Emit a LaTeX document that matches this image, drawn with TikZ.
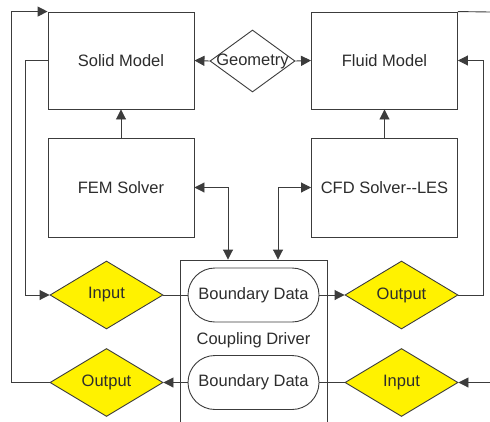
\documentclass[tikz,border=0pt]{standalone}
\usepackage{fontspec}
\setmainfont{Liberation Sans}
\usepackage{xcolor}
\usepackage{tikz}
\usetikzlibrary{arrows.meta,shapes,shapes.geometric,shapes.misc}
\definecolor{linegray}{RGB}{60,60,60}
\definecolor{txtgray}{RGB}{45,45,45}
\definecolor{diayellow}{RGB}{255,242,0}
\tikzset{
  box/.style={draw=linegray,line width=0.9pt,minimum width=146pt,minimum height=97pt,inner sep=0pt},
  bdata/.style={rounded rectangle,draw=linegray,line width=0.9pt,minimum width=131pt,minimum height=54pt,inner sep=0pt},
  yeldia/.style={diamond,draw=linegray,fill=diayellow,line width=0.9pt,minimum width=113pt,minimum height=68pt,inner sep=0pt},
  link/.style={draw=linegray,line width=0.9pt}
}
\begin{document}
\begin{tikzpicture}[x=1pt,y=-1pt,>={Triangle[length=10pt,width=10pt]},
  every node/.style={font=\fontsize{16.5}{19}\selectfont,text=txtgray}]
\clip(0,0)rectangle(490,421);
\fill[white](0,0)rectangle(490,421);
% models and solvers
\node[box](solid)at(121,60.5){Solid Model};
\node[box](fluid)at(384.5,60.5){Fluid Model};
\node[box,minimum height=99pt](fem)at(121,187.5){FEM Solver};
\node[box,minimum height=99pt](cfd)at(384.5,187.5){CFD Solver-{}-LES};
\node[diamond,draw=linegray,line width=0.9pt,minimum width=85pt,minimum height=62pt,inner sep=0pt,
  label={[font=\fontsize{16.5}{19}\selectfont,text=txtgray]center:Geometry}](geo)at(252.5,61){};
% coupling driver
\node[box,minimum width=147pt,minimum height=170pt,
  label={[font=\fontsize{16.5}{19}\selectfont,text=txtgray,yshift=5pt]center:Coupling Driver}](driver)at(253.5,345){};
\node[bdata](bdup)at(253.5,295){Boundary Data};
\node[bdata](bdlow)at(253.5,382.5){Boundary Data};
\node[yeldia](inL)at(106.5,295){Input};
\node[yeldia](outL)at(106.5,382.5){Output};
\node[yeldia](outR)at(401.5,295){Output};
\node[yeldia](inR)at(401.5,382.5){Input};
\coordinate(topR)at(490,12);
\coordinate(botR)at(490,382.5);
% connectors
\draw[link,->](geo.west)--(solid.east);
\draw[link,->](geo.east)--(fluid.west);
\draw[link,->](fem.north)--(solid.south);
\draw[link,->](cfd.north)--(fluid.south);
\draw[link,<->](fem.east)-|([xshift=-25.5pt]driver.north);
\draw[link,<->](cfd.west)-|([xshift=24.5pt]driver.north);
\draw[link](bdup.west)--(inL.east);
\draw[link,->](bdup.east)--(outR.west);
\draw[link,->](bdlow.west)--(outL.east);
\draw[link](bdlow.east)--(inR.west);
\draw[link,->](solid.west)--++(-22,0)|-(inL.west);
\draw[link,->](outL.west)--++(-38,0)|-(solid.north west);
\draw[link,->](outR.east)--++(25,0)|-(fluid.east);
\draw[link](fluid.north east)--(topR);
\draw[link,->](botR)--(inR.east);
\end{tikzpicture}
\end{document}
